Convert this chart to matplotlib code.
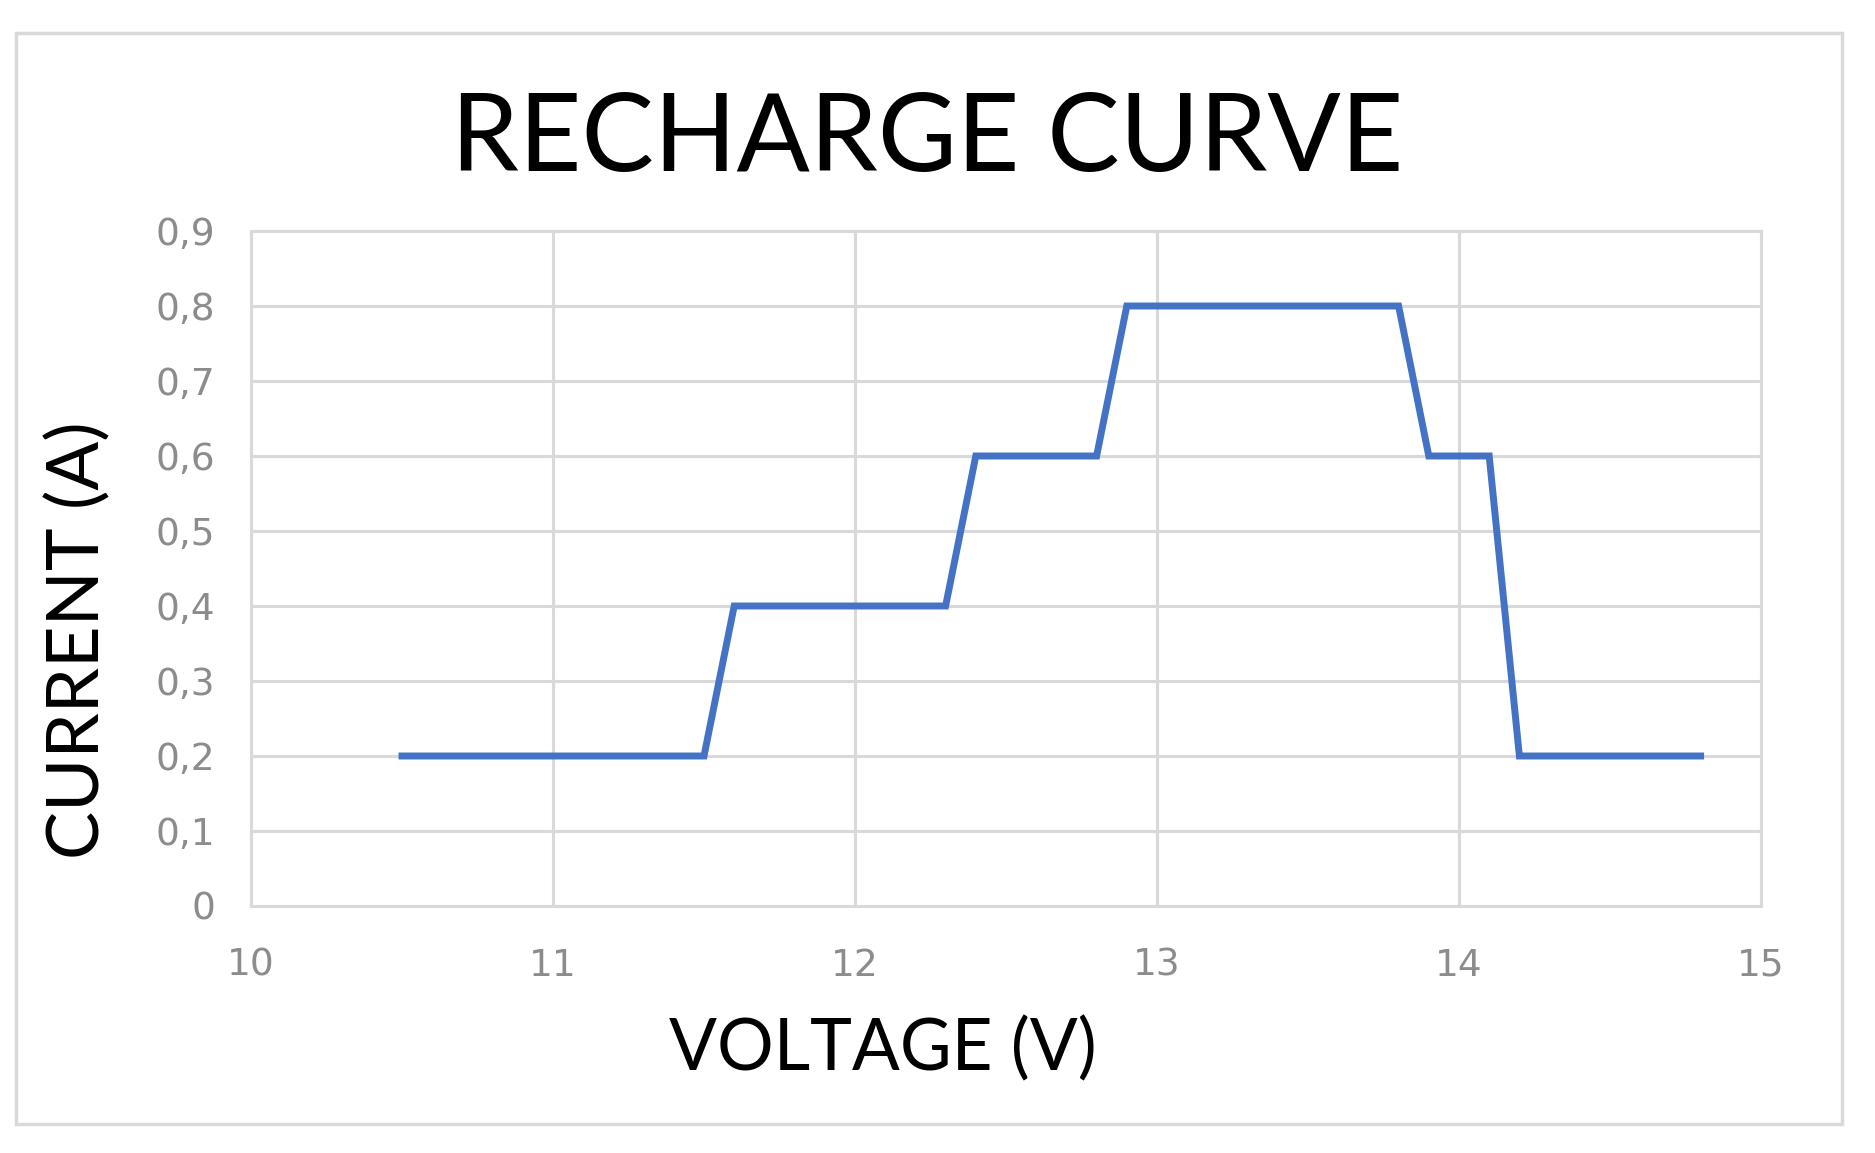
import matplotlib.pyplot as plt
import matplotlib.patches as patches
from matplotlib.ticker import FuncFormatter

# dados da curva de recarga
tensao = [10.5, 11.5, 11.6, 12.3, 12.4, 12.8, 12.9, 13.8, 13.9, 14.1, 14.2, 14.8]
corrente = [0.2, 0.2, 0.4, 0.4, 0.6, 0.6, 0.8, 0.8, 0.6, 0.6, 0.2, 0.2]
xticks = [10, 11, 12, 13, 14, 15]
yticks = [0, 0.1, 0.2, 0.3, 0.4, 0.5, 0.6, 0.7, 0.8, 0.9]

fig = plt.figure(figsize=(18.75, 11.53), dpi=100)
ax = fig.add_axes([251 / 1875, 1 - 906 / 1153, (1761 - 251) / 1875, (906 - 231) / 1153])

# moldura clara em volta do grafico
fig.patches.append(patches.Rectangle((16 / 1875, 1 - 1124 / 1153), (1842 - 16) / 1875, (1124 - 33) / 1153,
                                     transform=fig.transFigure, fill=False, edgecolor='#d9d9d9', linewidth=2.5))

ax.plot(tensao, corrente, color='#4472C4', linewidth=5, solid_joinstyle='miter', zorder=3)

ax.set_xlim(10, 15)
ax.set_ylim(0, 0.9)
ax.set_xticks(xticks)
ax.set_yticks(yticks)
ax.yaxis.set_major_formatter(FuncFormatter(lambda v, p: '0' if v == 0 else f'{v:.1f}'.replace('.', ',')))
ax.grid(True, color='#d9d9d9', linewidth=2.2)
ax.set_axisbelow(True)
for s in ax.spines.values():
    s.set_color('#d9d9d9')
    s.set_linewidth(2.2)
ax.tick_params(length=0, labelsize=27, labelcolor='#8c8c8c', pad=26)
ax.tick_params(axis='x', pad=30)

fig.text(927 / 1875, 1 - 140 / 1153, 'RECHARGE CURVE', fontsize=78, family='Lato',
         ha='center', va='center')
fig.text(883 / 1875, 1 - 1049 / 1153, 'VOLTAGE (V)', fontsize=51, family='Lato',
         ha='center', va='center')
fig.text(78 / 1875, 1 - 640 / 1153, 'CURRENT (A)', fontsize=52, family='Lato',
         ha='center', va='center', rotation=90)

plt.savefig('out.png', dpi=100)
plt.close()
